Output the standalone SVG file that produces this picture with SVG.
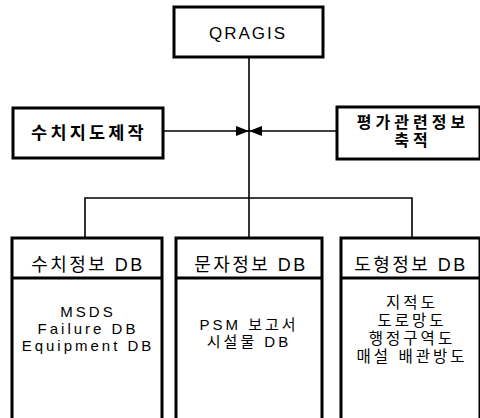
<svg xmlns="http://www.w3.org/2000/svg" width="480" height="418" viewBox="0 0 480 418">
<defs>
<style>
.box{fill:#fff;stroke:#000;stroke-width:3}
.ln{fill:none;stroke:#000;stroke-width:1.6}
text{font-family:"Liberation Sans","Noto Sans CJK KR",sans-serif;font-size:17px;fill:#000;text-anchor:middle;letter-spacing:2px}
.k{font-weight:bold;font-size:17.5px;letter-spacing:3.2px}
.k2{font-weight:bold;font-size:16px;letter-spacing:4px}
.h{font-size:18px;letter-spacing:2.5px}
.l{font-size:15px;letter-spacing:3px}
.g{font-size:15.5px;letter-spacing:3px}
</style>
<marker id="ah" markerWidth="13" markerHeight="10" refX="13" refY="5" orient="auto" markerUnits="userSpaceOnUse">
<path d="M0,0 L13,5 L0,10 Z" fill="#000"/>
</marker>
</defs>
<g id="connectors">
<line class="ln" x1="249" y1="57" x2="249" y2="198"/>
<line class="ln" x1="163" y1="131" x2="249" y2="131" marker-end="url(#ah)"/>
<line class="ln" x1="337" y1="131" x2="249" y2="131" marker-end="url(#ah)"/>
<polyline class="ln" points="85,238 85,198 412,198 412,238"/>
<line class="ln" x1="249" y1="198" x2="249" y2="238"/>
</g>
<g id="qragis">
<rect class="box" x="174" y="7" width="149" height="50"/>
<text x="248" y="39" font-size="19.5" letter-spacing="0.5">QRAGIS</text>
</g>
<g id="map-making">
<rect class="box" x="13" y="108" width="150" height="50"/>
<text class="k" x="89" y="139">수치지도제작</text>
</g>
<g id="eval-info">
<rect class="box" x="337" y="107" width="143" height="52"/>
<text class="k2" x="413" y="128">평가관련정보</text>
<text class="k2" x="413" y="146">축적</text>
</g>
<g id="num-db">
<rect class="box" x="12" y="238" width="150" height="190"/>
<line class="box" x1="12" y1="278" x2="162" y2="278"/>
<text class="h" x="88" y="271">수치정보 DB</text>
<text class="l" x="88" y="317">MSDS</text>
<text class="l" x="88" y="334">Failure DB</text>
<text class="l" x="88" y="351">Equipment DB</text>
</g>
<g id="text-db">
<rect class="box" x="176" y="238" width="146" height="190"/>
<line class="box" x1="176" y1="278" x2="322" y2="278"/>
<text class="h" x="251" y="271">문자정보 DB</text>
<text class="l" x="249" y="330" letter-spacing="2.5">PSM 보고서</text>
<text class="l" x="249" y="347" letter-spacing="2.5">시설물 DB</text>
</g>
<g id="shape-db">
<rect class="box" x="341" y="238" width="139" height="190"/>
<line class="box" x1="341" y1="278" x2="480" y2="278"/>
<text class="h" x="411" y="271">도형정보 DB</text>
<text class="g" x="412" y="308">지적도</text>
<text class="g" x="412" y="326">도로망도</text>
<text class="g" x="412" y="344">행정구역도</text>
<text class="g" x="412" y="362">매설 배관방도</text>
</g>
</svg>
